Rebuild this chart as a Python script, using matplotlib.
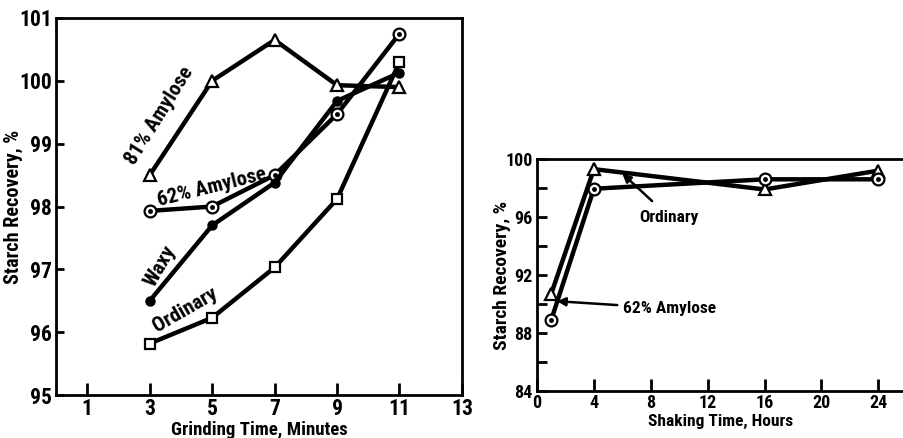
import numpy as np
import matplotlib.pyplot as plt
from matplotlib import font_manager as fm

# grinding data (left panel)
grind_t = [3, 5, 7, 9, 11]
amy81 = [98.5, 100.0, 100.65, 99.93, 99.9]
amy62 = [97.93, 98.0, 98.5, 99.47, 100.75]
waxy = [96.5, 97.7, 98.38, 99.68, 100.13]
ordinary = [95.82, 96.23, 97.03, 98.12, 100.3]

# shaking data (right panel)
shake_t = [1, 4, 16, 24]
shake_ord = [90.7, 99.3, 97.9, 99.2]
shake_amy62 = [88.9, 97.95, 98.6, 98.6]

# pick a narrow bold face if one is installed
fonts = fm.fontManager.ttflist
names = {f.name for f in fonts}
family = 'DejaVu Sans'
stretch = 'normal'
for cand in ['Liberation Sans Narrow', 'Roboto Condensed', 'Open Sans Condensed']:
    if cand in names:
        family = cand
        break
else:
    if any(f.name == 'DejaVu Sans' and 'ondensed' in f.fname for f in fonts):
        stretch = 'condensed'
    elif any(f.name == 'Roboto' and 'ondensed' in f.fname for f in fonts):
        family = 'Roboto'
        stretch = 'condensed'

plt.rcParams['font.family'] = [family, 'DejaVu Sans']
plt.rcParams['font.weight'] = 'bold'
plt.rcParams['font.stretch'] = stretch

fig = plt.figure(figsize=(9.04, 4.38), dpi=100)
ax1 = fig.add_axes([0.062, 0.098, 0.449, 0.861])
ax2 = fig.add_axes([0.594, 0.107, 0.406, 0.53])

lw = 3.2
ms = 8.5


def dotted_circle(ax, x, y):
    ax.plot(x, y, color='black', lw=lw, marker='o', ms=ms, mfc='white', mec='black', mew=1.6, zorder=3)
    ax.plot(x, y, ls='none', marker='o', ms=2.5, color='black', zorder=4)


# left panel
ax1.plot(grind_t, amy81, color='black', lw=lw, marker='^', ms=ms, mfc='white', mec='black', mew=1.6, zorder=3)
dotted_circle(ax1, grind_t, amy62)
ax1.plot(grind_t, waxy, color='black', lw=lw, marker='o', ms=6.5, mfc='black', mec='black', zorder=3)
ax1.plot(grind_t, ordinary, color='black', lw=lw, marker='s', ms=ms - 1, mfc='white', mec='black', mew=1.6, zorder=3)

ax1.set_xlim(0, 13)
ax1.set_ylim(95, 101)
ax1.set_xticks([1, 3, 5, 7, 9, 11, 13])
ax1.set_yticks([95, 96, 97, 98, 99, 100, 101])
ax1.tick_params(direction='in', length=9, width=2, labelsize=15.5, pad=2)
ax1.tick_params(axis='y', length=6, pad=3)
ax1.set_xlabel('Grinding Time, Minutes', fontsize=13.5, fontweight='bold')
ax1.set_ylabel('Starch Recovery, %', fontsize=14.5, fontweight='bold')
ax1.xaxis.set_label_coords(0.5, -0.07)
ax1.yaxis.set_label_coords(-0.082, 0.5)
for s in ax1.spines.values():
    s.set_linewidth(2)

ax1.text(3.3, 99.45, '81% Amylose', rotation=58, fontsize=15, fontweight='bold', ha='center', va='center')
ax1.text(5.0, 98.3, '62% Amylose', rotation=14, fontsize=15, fontweight='bold', ha='center', va='center')
ax1.text(3.35, 97.05, 'Waxy', rotation=60, fontsize=15, fontweight='bold', ha='center', va='center')
ax1.text(4.15, 96.35, 'Ordinary', rotation=30, fontsize=15, fontweight='bold', ha='center', va='center')

# right panel
ax2.plot(shake_t, shake_ord, color='black', lw=lw, marker='^', ms=ms, mfc='white', mec='black', mew=1.6, zorder=3)
dotted_circle(ax2, shake_t, shake_amy62)

ax2.set_xlim(0, 25.8)
ax2.set_ylim(84, 100)
ax2.set_xticks([0, 4, 8, 12, 16, 20, 24])
ax2.set_yticks(np.arange(84, 101, 2))
ax2.set_yticklabels(['84', '', '88', '', '92', '', '96', '', '100'])
ax2.tick_params(direction='in', length=7, width=2, labelsize=13, pad=3)
ax2.tick_params(axis='x', length=9, pad=2)
ax2.set_xlabel('Shaking Time, Hours', fontsize=12.5, fontweight='bold')
ax2.set_ylabel('Starch Recovery, %', fontsize=14, fontweight='bold')
ax2.xaxis.set_label_coords(0.5, -0.1)
ax2.yaxis.set_label_coords(-0.07, 0.5)
for s in ax2.spines.values():
    s.set_linewidth(2)
ax2.spines['right'].set_visible(False)

ax2.annotate('Ordinary', xy=(6.0, 99.0), xytext=(9.3, 96.0), fontsize=12.5, fontweight='bold',
             ha='center', va='center',
             arrowprops=dict(arrowstyle='-|>', color='black', lw=1.8, shrinkA=6, shrinkB=0))
ax2.annotate('62% Amylose', xy=(1.4, 90.2), xytext=(9.3, 89.7), fontsize=12.5, fontweight='bold',
             ha='center', va='center',
             arrowprops=dict(arrowstyle='-|>', color='black', lw=1.8, shrinkA=2, shrinkB=0))

fig.savefig('out.png', dpi=100)
